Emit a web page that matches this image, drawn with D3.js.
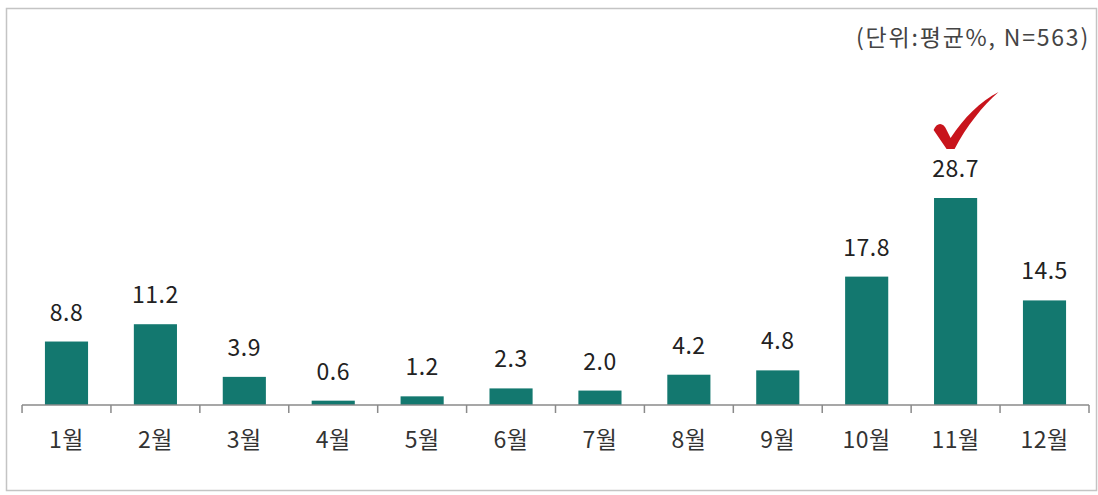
<!DOCTYPE html>
<html>
<head>
<meta charset="utf-8">
<script src="https://d3js.org/d3.v7.min.js"></script>
<style type="text/css">
    body { margin: 0; background: #fff; }
    text { font-family: "Noto Sans CJK KR", "Noto Sans", sans-serif; }
</style>
</head>
<body>
<div id="chart"></div>
<script type="text/javascript">
    var months = ['1월','2월','3월','4월','5월','6월','7월','8월','9월','10월','11월','12월'];
    var values = [8.8, 11.2, 3.9, 0.6, 1.2, 2.3, 2.0, 4.2, 4.8, 17.8, 28.7, 14.5];
    var unitLabel = '(단위:평균%, N=563)';
    var checkedMonth = '11월';

    var width = 1098, height = 495;
    var baseY = 405;

    var svg = d3.select('#chart').append('svg')
        .attr('width', width)
        .attr('height', height);

    // frame
    svg.append('rect')
        .attr('x', 6.5).attr('y', 8.5)
        .attr('width', 1090).attr('height', 482)
        .attr('fill', 'none')
        .attr('stroke', '#c4c4c4')
        .attr('stroke-width', 1.5);

    var x = d3.scaleBand()
        .domain(months)
        .range([22, 1089])
        .paddingInner(0.515)
        .paddingOuter(0.258);

    var y = d3.scaleLinear()
        .domain([0, 28.7])
        .range([baseY, 198]);

    svg.selectAll('rect.bar')
        .data(values)
        .enter().append('rect')
            .attr('class', 'bar')
            .attr('x', function(d, i){ return x(months[i]); })
            .attr('y', function(d){ return y(d); })
            .attr('width', x.bandwidth())
            .attr('height', function(d){ return baseY - y(d); })
            .attr('fill', '#13786f');

    // value labels
    svg.selectAll('text.val')
        .data(values)
        .enter().append('text')
            .attr('class', 'val')
            .attr('x', function(d, i){ return x(months[i]) + x.bandwidth() / 2; })
            .attr('y', function(d){ return y(d) - 21; })
            .attr('text-anchor', 'middle')
            .attr('font-size', 23)
            .attr('letter-spacing', 0.5)
            .attr('fill', '#222')
            .text(function(d){ return d3.format('.1f')(d); });

    // axis line + ticks at category boundaries
    var axis = svg.append('g').attr('stroke', '#8a8a8a').attr('stroke-width', 1.5);
    axis.append('line')
        .attr('x1', 22).attr('x2', 1089)
        .attr('y1', baseY).attr('y2', baseY);
    var bounds = months.map(function(m){ return x(m) - x.step() * x.paddingInner() / 2; });
    bounds.push(1089);
    axis.selectAll('line.tick')
        .data(bounds)
        .enter().append('line')
            .attr('class', 'tick')
            .attr('x1', function(d){ return d; })
            .attr('x2', function(d){ return d; })
            .attr('y1', baseY).attr('y2', baseY + 8);

    // month labels
    svg.selectAll('text.month')
        .data(months)
        .enter().append('text')
            .attr('class', 'month')
            .attr('x', function(d){ return x(d) + x.bandwidth() / 2; })
            .attr('y', 448)
            .attr('text-anchor', 'middle')
            .attr('font-size', 23)
            .attr('letter-spacing', 0.5)
            .attr('fill', '#333')
            .text(function(d){ return d; });

    // unit label
    svg.append('text')
        .attr('x', 1090).attr('y', 46)
        .attr('text-anchor', 'end')
        .attr('font-size', 23)
        .attr('letter-spacing', 1.8)
        .attr('fill', '#444')
        .text(unitLabel);

    // red check mark above the highlighted bar
    var cx = x(checkedMonth) + x.bandwidth() / 2;
    var cy = y(values[months.indexOf(checkedMonth)]);
    svg.append('path')
        .attr('transform', 'translate(' + cx + ',' + cy + ')')
        .attr('d', 'M-22,-68 C-19,-76 -12,-76 -9,-68 L-5,-60 C8,-80 25,-97 43,-106 C27,-92 11,-72 -1,-49 L-9,-49 Z')
        .attr('fill', '#c8141c');
</script>
</body>
</html>
